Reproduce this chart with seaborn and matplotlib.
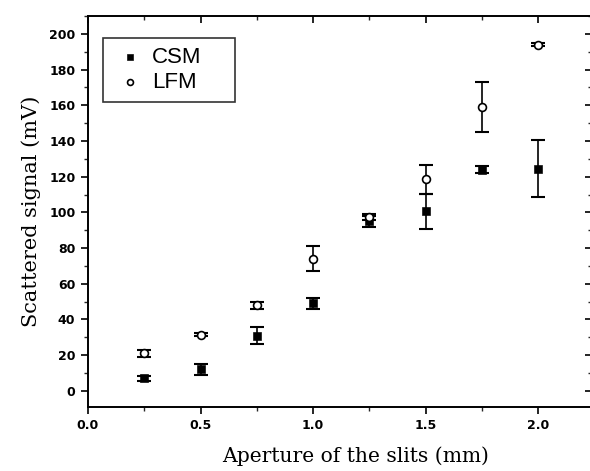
import matplotlib
matplotlib.use("Agg")
import matplotlib.pyplot as plt
from matplotlib.ticker import MultipleLocator, FormatStrFormatter
import seaborn as sns
import pandas as pd

aperture = [0.25, 0.5, 0.75, 1.0, 1.25, 1.5, 1.75, 2.0]
csm = [7, 12, 31, 49, 95, 100.5, 124, 124.5]
csm_err = [1.5, 3, 5, 3, 3, 10, 2, 16]
lfm = [21, 31.5, 48, 74, 97.5, 118.5, 159, 194]
lfm_err = [2, 1, 2, 7, 1.5, 8.3, 14, 1]

sns.set_style("ticks")
plt.rcParams["font.family"] = ["DejaVu Sans"]
plt.rcParams["text.color"] = "black"

fig = plt.figure(figsize=(5.9, 4.71), dpi=100)
ax = fig.add_axes([0.149, 0.136, 0.855, 0.830])

df = pd.DataFrame({
    "x": aperture * 2,
    "y": csm + lfm,
    "series": ["CSM"] * len(aperture) + ["LFM"] * len(aperture),
})

ax.errorbar(aperture, csm, yerr=csm_err, fmt="none", ecolor="black",
            elinewidth=1.2, capsize=5, capthick=1.5, zorder=2)
ax.errorbar(aperture, lfm, yerr=lfm_err, fmt="none", ecolor="black",
            elinewidth=1.2, capsize=5, capthick=1.5, zorder=2)

sns.scatterplot(data=df[df.series == "CSM"], x="x", y="y", ax=ax,
                marker="s", s=30, color="black", edgecolor="black",
                label="CSM", zorder=3)
sns.scatterplot(data=df[df.series == "LFM"], x="x", y="y", ax=ax,
                marker="o", s=32, facecolor="white", edgecolor="black",
                linewidth=1.2, label="LFM", zorder=3)

ax.set_xlim(0, 2.24)
ax.set_ylim(-9, 210)
ax.xaxis.set_major_locator(MultipleLocator(0.5))
ax.xaxis.set_minor_locator(MultipleLocator(0.25))
ax.yaxis.set_major_locator(MultipleLocator(20))
ax.yaxis.set_minor_locator(MultipleLocator(10))
ax.xaxis.set_major_formatter(FormatStrFormatter("%.1f"))

for side in ["top", "right", "left", "bottom"]:
    ax.spines[side].set_visible(True)
    ax.spines[side].set_linewidth(1.4)
    ax.spines[side].set_color("black")

ax.tick_params(axis="both", which="major", direction="out", length=5, width=1.2,
               labelsize=9, colors="black", pad=4)
ax.tick_params(axis="both", which="minor", direction="out", length=3, width=1)
ax.tick_params(axis="x", which="both", top=True)
ax.tick_params(axis="y", which="both", right=True)
# top/right ticks point inward
for t in ax.xaxis.get_major_ticks() + ax.xaxis.get_minor_ticks():
    t.tick2line.set_marker(matplotlib.lines.TICKDOWN)
for t in ax.yaxis.get_major_ticks() + ax.yaxis.get_minor_ticks():
    t.tick2line.set_marker(matplotlib.lines.TICKLEFT)
for lab in ax.get_xticklabels() + ax.get_yticklabels():
    lab.set_fontweight("bold")

ax.set_xlabel("Aperture of the slits (mm)", family="DejaVu Serif", fontsize=14.6,
              color="black")
ax.xaxis.set_label_coords(0.531, -0.1)
ax.set_ylabel("Scattered signal (mV)", family="DejaVu Serif", fontsize=15,
              color="black", labelpad=6)

leg = ax.legend(loc="upper left", bbox_to_anchor=(0.0297, 0.5, 0.262, 0.444),
                mode="expand", borderaxespad=0, frameon=True,
                fancybox=False, edgecolor="black",
                prop={"family": "Liberation Sans", "size": 16},
                handletextpad=0.2, borderpad=0.4, labelspacing=0.2,
                handlelength=1.6, markerscale=0.75, labelcolor="black")
leg.get_frame().set_linewidth(1.2)

fig.savefig("out.png", dpi=100)
